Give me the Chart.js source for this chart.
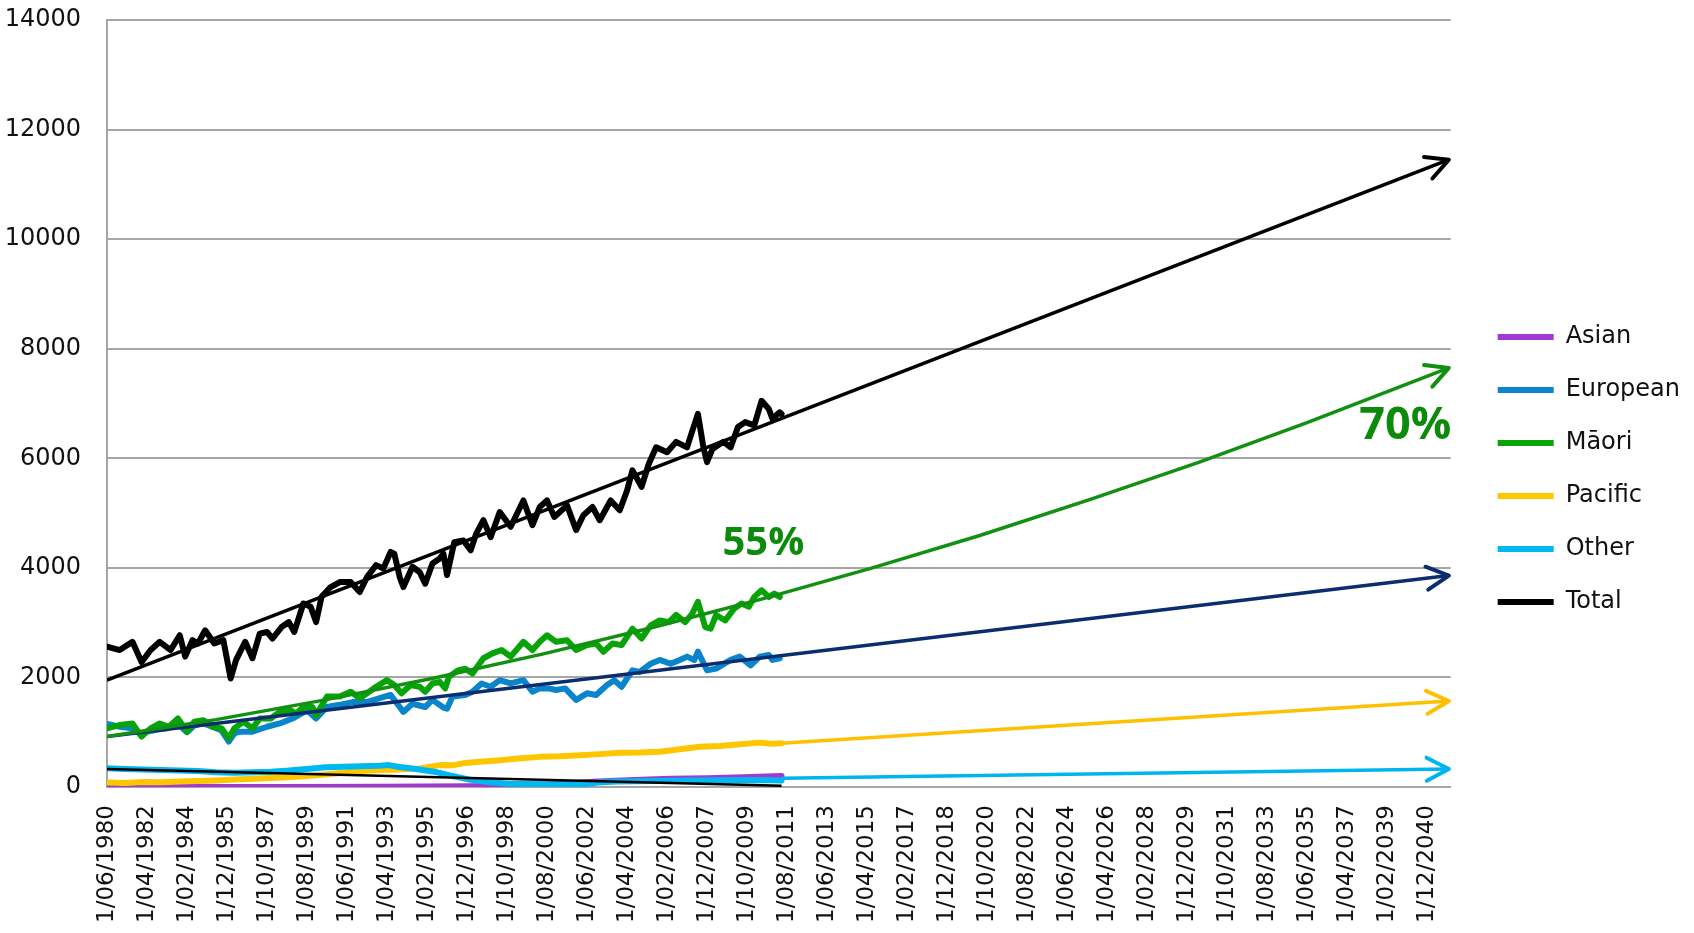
<!DOCTYPE html>
<html>
<head>
<meta charset="utf-8">
<script src="https://cdn.jsdelivr.net/npm/chart.js@4.4.1/dist/chart.umd.min.js"></script>
<style>
  html, body { margin: 0; padding: 0; background: #fff; }
</style>
</head>
<body>
<canvas id="myChart" width="1694" height="933"></canvas>
<script>
// x values are months counted from June 1980
var tickLabels = ['1/06/1980', '1/04/1982', '1/02/1984', '1/12/1985', '1/10/1987', '1/08/1989',
    '1/06/1991', '1/04/1993', '1/02/1995', '1/12/1996', '1/10/1998', '1/08/2000', '1/06/2002',
    '1/04/2004', '1/02/2006', '1/12/2007', '1/10/2009', '1/08/2011', '1/06/2013', '1/04/2015',
    '1/02/2017', '1/12/2018', '1/10/2020', '1/08/2022', '1/06/2024', '1/04/2026', '1/02/2028',
    '1/12/2029', '1/10/2031', '1/08/2033', '1/06/2035', '1/04/2037', '1/02/2039', '1/12/2040'];
var tickStep = 22;
var lastMonth = 739;

var asian = [[0,0],[100,0],[150,5],[200,15],[230,30],[250,60],[270,100],[290,130],[310,150],[330,160],[350,180],[371,200]];

var european = [[0,1150],[7,1100],[14,1070],[19,960],[22,1010],[28,1050],[33,1070],[39,1150],[44,1000],[48,1120],
    [53,1160],[58,1100],[63,1030],[67,830],[70,980],[73,1010],[80,1010],[88,1100],[95,1160],[102,1250],
    [110,1400],[115,1250],[121,1460],[128,1500],[135,1550],[143,1550],[150,1620],[156,1680],[161,1460],[163,1370],
    [168,1520],[175,1460],[179,1590],[185,1450],[187,1430],[190,1650],[197,1680],[201,1740],[206,1890],[211,1830],
    [216,1950],[222,1890],[229,1950],[234,1740],[238,1800],[243,1800],[247,1770],[252,1800],[258,1590],[264,1710],
    [269,1680],[275,1860],[279,1950],[283,1830],[289,2130],[293,2100],[299,2250],[304,2320],[310,2250],[315,2320],
    [319,2380],[323,2320],[325,2470],[330,2130],[335,2160],[343,2320],[348,2380],[354,2220],[359,2380],[364,2410],
    [366,2320],[370,2350]];

var maori = [[0,1070],[7,1130],[14,1160],[19,920],[24,1070],[29,1160],[34,1100],[39,1250],[44,1010],[48,1190],
    [53,1220],[58,1100],[63,1070],[67,890],[70,1070],[75,1190],[80,1070],[84,1250],[90,1250],[95,1370],
    [101,1400],[104,1340],[108,1460],[113,1460],[115,1310],[121,1650],[128,1650],[134,1740],[139,1620],[143,1710],
    [148,1830],[154,1950],[158,1860],[162,1710],[167,1860],[172,1830],[175,1740],[179,1890],[183,1920],[186,1800],
    [188,2010],[193,2130],[197,2160],[201,2070],[207,2350],[212,2440],[217,2500],[222,2380],[229,2650],[234,2500],
    [238,2650],[242,2770],[247,2650],[253,2680],[258,2500],[264,2590],[269,2620],[273,2470],[278,2620],[283,2590],
    [289,2890],[294,2710],[299,2950],[304,3040],[309,3010],[313,3140],[318,3010],[322,3170],[325,3380],[329,2920],
    [332,2890],[335,3140],[340,3040],[345,3260],[349,3350],[353,3290],[356,3470],[360,3590],[364,3470],[367,3530],
    [370,3470]];

var pacific = [[0,80],[10,75],[20,90],[30,85],[40,100],[50,110],[60,120],[70,135],[80,150],[90,165],
    [106,190],[120,230],[130,260],[140,290],[150,310],[160,320],[172,340],[183,400],[190,395],[197,440],
    [205,460],[216,490],[226,520],[238,550],[249,560],[260,580],[271,600],[282,625],[293,630],[304,645],
    [315,690],[326,735],[337,750],[348,780],[359,810],[365,790],[371,800]];

var other = [[0,340],[10,330],[20,320],[30,310],[40,300],[50,290],[60,270],[70,260],[80,270],[90,280],
    [100,300],[110,330],[120,360],[130,370],[140,380],[150,390],[155,400],[160,370],[170,330],[180,280],
    [190,200],[200,130],[210,90],[220,60],[240,50],[260,40],[270,80],[280,100],[300,110],[320,120],
    [340,125],[360,130],[371,120]];

var total = [[0,2560],[7,2500],[14,2650],[19,2280],[24,2500],[29,2650],[35,2500],[40,2770],[43,2380],[47,2680],
    [50,2620],[54,2860],[59,2620],[64,2680],[68,1980],[71,2320],[76,2650],[80,2350],[84,2800],[88,2830],
    [91,2710],[96,2920],[100,3010],[103,2830],[108,3350],[112,3290],[115,3010],[118,3470],[123,3650],[128,3740],
    [134,3740],[139,3560],[143,3830],[148,4050],[152,3990],[156,4290],[158,4260],[161,3830],[163,3650],[168,4020],
    [172,3920],[175,3710],[179,4080],[183,4170],[185,4260],[187,3870],[191,4470],[196,4500],[200,4320],[203,4620],
    [207,4870],[211,4560],[216,5020],[222,4750],[229,5230],[234,4780],[238,5110],[242,5230],[246,4930],[253,5140],
    [258,4690],[262,4960],[267,5110],[271,4870],[277,5230],[282,5050],[286,5410],[289,5780],[294,5480],[298,5900],
    [302,6200],[308,6110],[313,6300],[319,6200],[322,6510],[325,6810],[328,6200],[330,5930],[333,6170],[339,6300],
    [343,6200],[347,6570],[351,6660],[356,6600],[360,7050],[364,6900],[366,6720],[370,6840],[371,6810]];

// trend lines and projections
var totalTrend = [[0,1950],[738,11450]];
var maoriTrend = [[0,920],[60,1230],[120,1590],[180,1990],[240,2430],[300,2910],[360,3430],[420,3990],
    [480,4590],[540,5240],[600,5920],[660,6650],[738,7650]];
var europeanTrend = [[0,920],[738,3860]];
var pacificArrow = [[371,800],[738,1570]];
var otherTrend = [[0,330],[371,25]];
var otherArrow = [[371,160],[738,330]];

var notes = [
    {text: '55%', month: 361, value: 4440, size: 40},
    {text: '70%', month: 714, value: 6590, size: 45}
];

function pts(arr) {
    return arr.map(function (p) { return {x: p[0], y: p[1]}; });
}

function series(label, arr, color, order) {
    return {
        label: label, data: pts(arr), borderColor: color, backgroundColor: color,
        borderWidth: 6, pointRadius: 0, pointStyle: 'line', order: order,
        borderJoinStyle: 'round', borderCapStyle: 'round', fill: false
    };
}

function trend(arr, color, width, arrow) {
    return {
        label: '', data: pts(arr), borderColor: color, borderWidth: width,
        pointRadius: 0, order: 1, arrowHead: arrow, fill: false, isTrend: true
    };
}

var arrowPlugin = {
    id: 'arrows',
    afterLayout: function (chart) {
        var lg = chart.legend;
        lg.left += 18; lg.right += 18;
        lg.top -= 7; lg.bottom -= 7;
    },
    afterDatasetsDraw: function (chart) {
        var ctx = chart.ctx;
        chart.data.datasets.forEach(function (ds, i) {
            if (!ds.arrowHead) return;
            var p = chart.getDatasetMeta(i).data;
            var a = p[p.length - 2], b = p[p.length - 1];
            var ang = Math.atan2(b.y - a.y, b.x - a.x);
            ctx.save();
            ctx.strokeStyle = ds.borderColor;
            ctx.lineWidth = 4;
            ctx.lineCap = 'round';
            ctx.lineJoin = 'round';
            ctx.beginPath();
            ctx.moveTo(b.x - 25 * Math.cos(ang - 0.48), b.y - 25 * Math.sin(ang - 0.48));
            ctx.lineTo(b.x, b.y);
            ctx.lineTo(b.x - 25 * Math.cos(ang + 0.48), b.y - 25 * Math.sin(ang + 0.48));
            ctx.stroke();
            ctx.restore();
        });
        var xs = chart.scales.x, ys = chart.scales.y;
        notes.forEach(function (n) {
            ctx.save();
            ctx.fillStyle = '#0B8A0B';
            ctx.font = 'bold ' + n.size + 'px "Open Sans"';
            ctx.textAlign = 'center';
            ctx.textBaseline = 'middle';
            ctx.fillText(n.text, xs.getPixelForValue(n.month), ys.getPixelForValue(n.value));
            ctx.restore();
        });
    }
};

Chart.defaults.font.family = '"DejaVu Sans"';
Chart.defaults.color = '#111';

var ctx = document.getElementById('myChart').getContext('2d');
var chart = new Chart(ctx, {
    type: 'line',
    data: {
        datasets: [
            series('Asian', asian, '#A238D6', 16),
            series('European', european, '#0A84CB', 15),
            series('M\u0101ori', maori, '#07A307', 14),
            series('Pacific', pacific, '#FFC600', 13),
            series('Other', other, '#00B8F0', 12),
            series('Total', total, '#000000', 11),
            trend(totalTrend, '#000000', 3.5, true),
            trend(maoriTrend, '#129012', 3.5, true),
            trend(europeanTrend, '#0B2C6E', 3.5, true),
            trend(pacificArrow, '#FFC000', 3.5, true),
            trend(otherTrend, '#000000', 2.5, false),
            trend(otherArrow, '#00B4F0', 3.5, true)
        ]
    },
    options: {
        responsive: false,
        animation: false,
        layout: { padding: { top: 20, right: 22, bottom: 0, left: 0 } },
        plugins: {
            tooltip: { enabled: false },
            legend: {
                position: 'right',
                labels: {
                    usePointStyle: true,
                    pointStyleWidth: 56,
                    padding: 29,
                    font: { size: 24 },
                    color: '#111',
                    filter: function (item, data) { return !data.datasets[item.datasetIndex].isTrend; },
                    sort: function (a, b) { return a.datasetIndex - b.datasetIndex; }
                }
            }
        },
        scales: {
            x: {
                type: 'linear',
                min: 0,
                max: lastMonth,
                grid: { display: false, drawTicks: false },
                border: { display: true, color: '#A6A6A6', width: 2 },
                afterBuildTicks: function (scale) {
                    scale.ticks = tickLabels.map(function (l, i) { return {value: i * tickStep}; });
                },
                afterFit: function (scale) { scale.height = 146; },
                ticks: {
                    autoSkip: false,
                    minRotation: 90,
                    maxRotation: 90,
                    padding: 18,
                    font: { size: 23 },
                    color: '#111',
                    callback: function (value) { return tickLabels[Math.round(value / tickStep)]; }
                }
            },
            y: {
                min: 0,
                max: 14000,
                grid: { color: '#A6A6A6', lineWidth: 2, drawTicks: true, tickLength: 26, tickColor: 'rgba(0,0,0,0)' },
                border: { display: true, color: '#A6A6A6', width: 2 },
                afterFit: function (scale) { scale.width = 107; },
                ticks: {
                    stepSize: 2000,
                    padding: 0,
                    font: { size: 24 },
                    color: '#111',
                    callback: function (value) { return String(value); }
                }
            }
        }
    },
    plugins: [arrowPlugin]
});
</script>
</body>
</html>
